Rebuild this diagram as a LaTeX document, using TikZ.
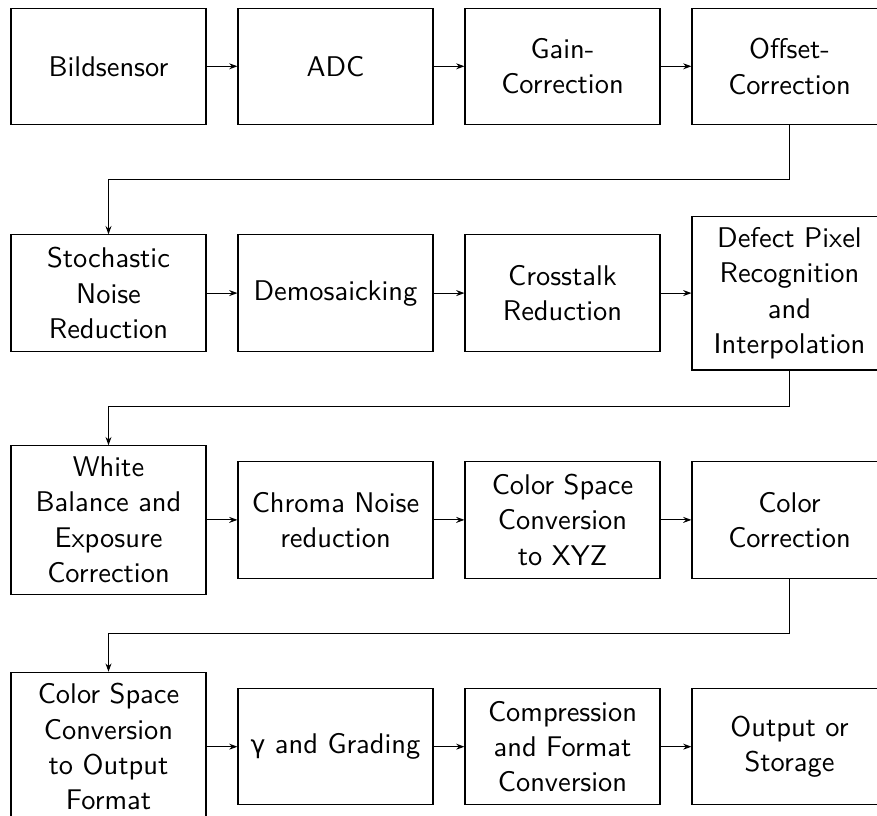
\documentclass[tikz,border=0pt]{standalone}
\usepackage{fontspec}
\newfontfamily\grkfont{DejaVu Sans}[Scale=0.88]
\usetikzlibrary{arrows.meta,calc}
\begin{document}
\begin{tikzpicture}[x=0.384615pt,y=-0.384615pt,
  blk/.style={draw, line width=0.4pt, minimum width=75pt, minimum height=44.8pt,
    inner xsep=3pt, inner ysep=4.25pt, align=center,
    font=\sffamily\fontsize{10.95pt}{13.6pt}\selectfont},
  conn/.style={-{Stealth[length=3.2pt,width=2.3pt]}, line width=0.4pt}]
\useasboundingbox (0,0) rectangle (877,816);
% row 1
\node[blk] (b1)  at (108.5,66.3) {Bildsensor};
\node[blk] (b2)  at (335.5,66.3) {ADC};
\node[blk] (b3)  at (562.5,66.3) {Gain-\\Correction};
\node[blk] (b4)  at (789.5,66.3) {Offset-\\Correction};
% row 2
\node[blk] (b5)  at (108.5,293.1) {Stochastic\\Noise\\Reduction};
\node[blk] (b6)  at (335.5,293.1) {Demosaicking};
\node[blk] (b7)  at (562.5,293.1) {Crosstalk\\Reduction};
\node[blk] (b8)  at (789.5,293.1) {Defect Pixel\\Recognition\\and\\Interpolation};
% row 3
\node[blk] (b9)  at (108.5,519.9) {White\\Balance and\\Exposure\\Correction};
\node[blk] (b10) at (335.5,519.9) {Chroma Noise\\reduction};
\node[blk] (b11) at (562.5,519.9) {Color Space\\Conversion\\to XYZ};
\node[blk] (b12) at (789.5,519.9) {Color\\Correction};
% row 4
\node[blk] (b13) at (108.5,746.7) {Color Space\\Conversion\\to Output\\Format};
\node[blk] (b14) at (335.5,746.7) {{\grkfont γ} and Grading};
\node[blk] (b15) at (562.5,746.7) {Compression\\and Format\\Conversion};
\node[blk] (b16) at (789.5,746.7) {Output or\\Storage};
% connectors within rows
\draw[conn] (b1) -- (b2);
\draw[conn] (b2) -- (b3);
\draw[conn] (b3) -- (b4);
\draw[conn] (b5) -- (b6);
\draw[conn] (b6) -- (b7);
\draw[conn] (b7) -- (b8);
\draw[conn] (b9) -- (b10);
\draw[conn] (b10) -- (b11);
\draw[conn] (b11) -- (b12);
\draw[conn] (b13) -- (b14);
\draw[conn] (b14) -- (b15);
\draw[conn] (b15) -- (b16);
% connectors between rows
\coordinate (m1) at ($(b4)!0.5!(b5)$);
\coordinate (m2) at ($(b8)!0.5!(b9)$);
\coordinate (m3) at ($(b12)!0.5!(b13)$);
\draw[conn] (b4.south) |- (m1) -| (b5.north);
\draw[conn] (b8.south) |- (m2) -| (b9.north);
\draw[conn] (b12.south) |- (m3) -| (b13.north);
\end{tikzpicture}
\end{document}
